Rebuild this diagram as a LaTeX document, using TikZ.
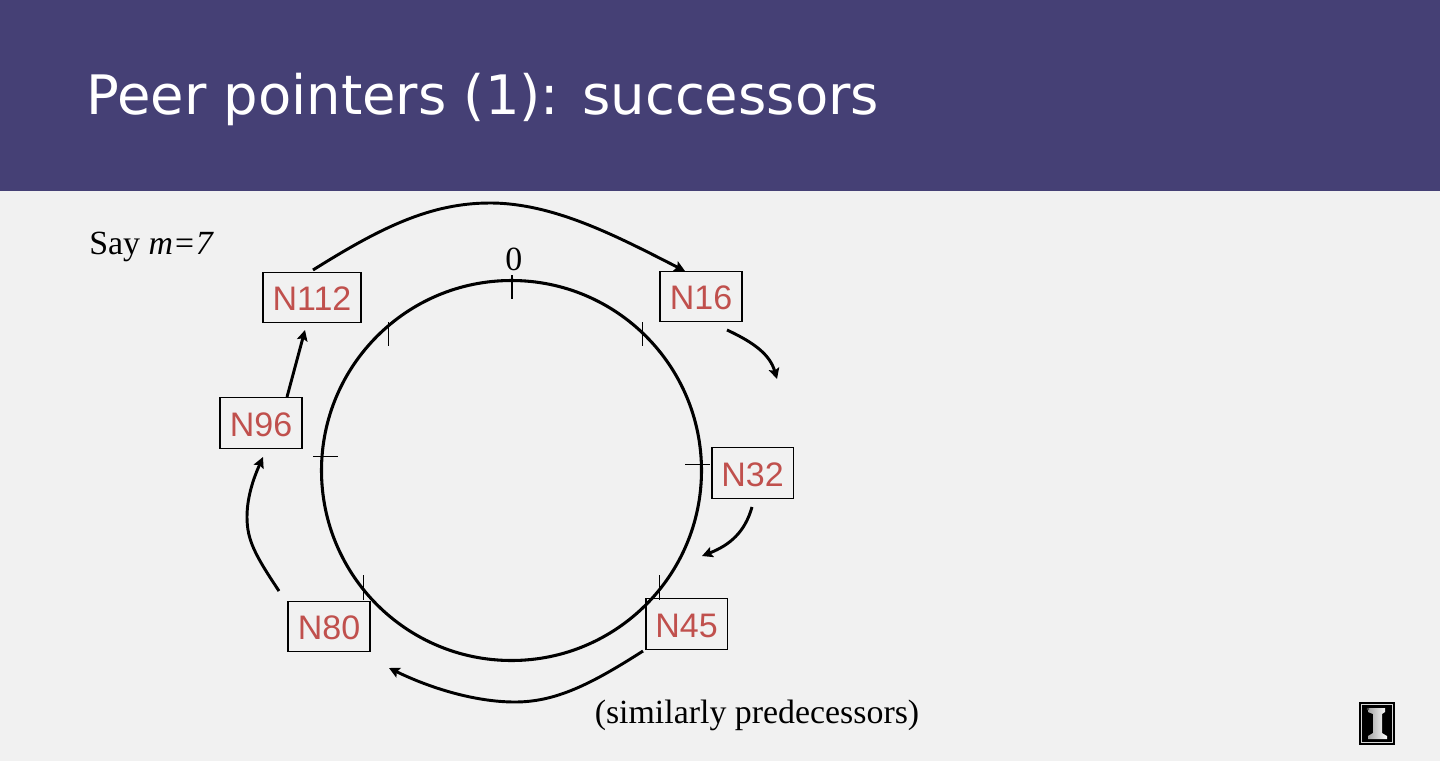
\documentclass[tikz,border=0pt]{standalone}
\usepackage{fontspec}
\setmainfont{Liberation Serif}
\newfontfamily\titlefont{DejaVu Sans}
\newfontfamily\labelfont{Liberation Sans}
\usetikzlibrary{arrows.meta}
\definecolor{band}{HTML}{454075}
\definecolor{page}{HTML}{F1F1F1}
\definecolor{nodered}{HTML}{C0504D}
\tikzset{
  peer/.style={draw=black,line width=1pt,minimum height=37.8pt,inner sep=0pt,text=nodered,font=\labelfont\fontsize{25.5}{28}\selectfont,anchor=center,text height=19.8pt,text depth=0pt},
  link/.style={line width=2.2pt,-{Stealth[length=8pt,width=8pt,inset=1.5pt]}},
  tick/.style={line width=0.75pt},
  note/.style={font=\fontsize{25.4}{30}\selectfont,anchor=base west,inner sep=0pt,text=black}
}
\begin{document}
\begin{tikzpicture}[x=0.75pt,y=-0.75pt]
\useasboundingbox (0,0) rectangle (1440,761);
\fill[page] (0,0) rectangle (1440,761);
\fill[band] (0,0) rectangle (1440,191);
\node[anchor=base west,inner sep=0pt,text=white,font=\titlefont\fontsize{40.8}{48}\selectfont] (title) at (86,114) {Peer pointers (1): successors};
\node[note] (say) at (89,254) {Say \textit{m=7}};
\node[note] (zero) at (505,270) {0};
\node[note] (sim) at (594.5,723) {(similarly predecessors)};
% ring
\node[circle,draw=black,line width=2.3pt,minimum size=285pt,inner sep=0pt] (ring) at (511.5,470.5) {};
% ticks
\draw[tick,line width=1.3pt] (512,275) -- (512,299);
\draw[tick] (388,322) -- (388,346);
\draw[tick] (642.5,322) -- (642.5,346);
\draw[tick] (313,456) -- (338,456);
\draw[tick] (685,464) -- (710,464);
\draw[tick] (363,575) -- (363,600);
\draw[tick] (659,575) -- (659,600);
% peers
\node[peer,minimum width=73.5pt] (n112) at (312,297.5) {N112};
\node[peer,minimum width=61.5pt] (n96) at (261,423) {N96};
\node[peer,minimum width=61.5pt] (n16) at (701,296.5) {N16};
\node[peer,minimum width=61pt] (n32) at (752.5,473) {N32};
\node[peer,minimum width=61pt] (n45) at (686.5,624) {N45};
\node[peer,minimum width=61.5pt] (n80) at (329,626.5) {N80};
% free ends
\coordinate (a1) at (313,270); \coordinate (a2) at (685,271);
\coordinate (b1) at (727,330); \coordinate (b2) at (777,379);
\coordinate (c1) at (752,507); \coordinate (c2) at (702,556);
\coordinate (d1) at (643,651); \coordinate (d2) at (389,668);
\coordinate (e1) at (279,591); \coordinate (e2) at (263,457);
\coordinate (f1) at (287,397); \coordinate (f2) at (305,330);
\draw[link] (a1) .. controls (380,228) and (430,203) .. (490,203) .. controls (555,203) and (620,238) .. (a2);
\draw[link] (b1) .. controls (755,343) and (770,355) .. (b2);
\draw[link] (c1) .. controls (745,532) and (730,545) .. (c2);
\draw[link] (d1) .. controls (590,685) and (555,702) .. (515,702) .. controls (475,702) and (430,688) .. (d2);
\draw[link] (e1) .. controls (255,555) and (247,540) .. (247,517) .. controls (247,495) and (255,475) .. (e2);
\draw[link] (f1) -- (f2);
% logo
\fill[black] (1359,702) rectangle (1395,745);
\draw[white!85!black,line width=0.6pt] (1361.5,704.5) rectangle (1392.5,742.5);
\shade[left color=gray!70,right color=white,middle color=gray!35] (1368,708) -- (1385,708) -- (1385,712) -- (1382,714) -- (1382,733) -- (1387,736) -- (1387,739) -- (1368,739) -- (1368,736) -- (1373,733) -- (1373,714) -- (1368,712) -- cycle;
\fill[black!70] (1368,709) circle[radius=1.4];
\end{tikzpicture}
\end{document}
